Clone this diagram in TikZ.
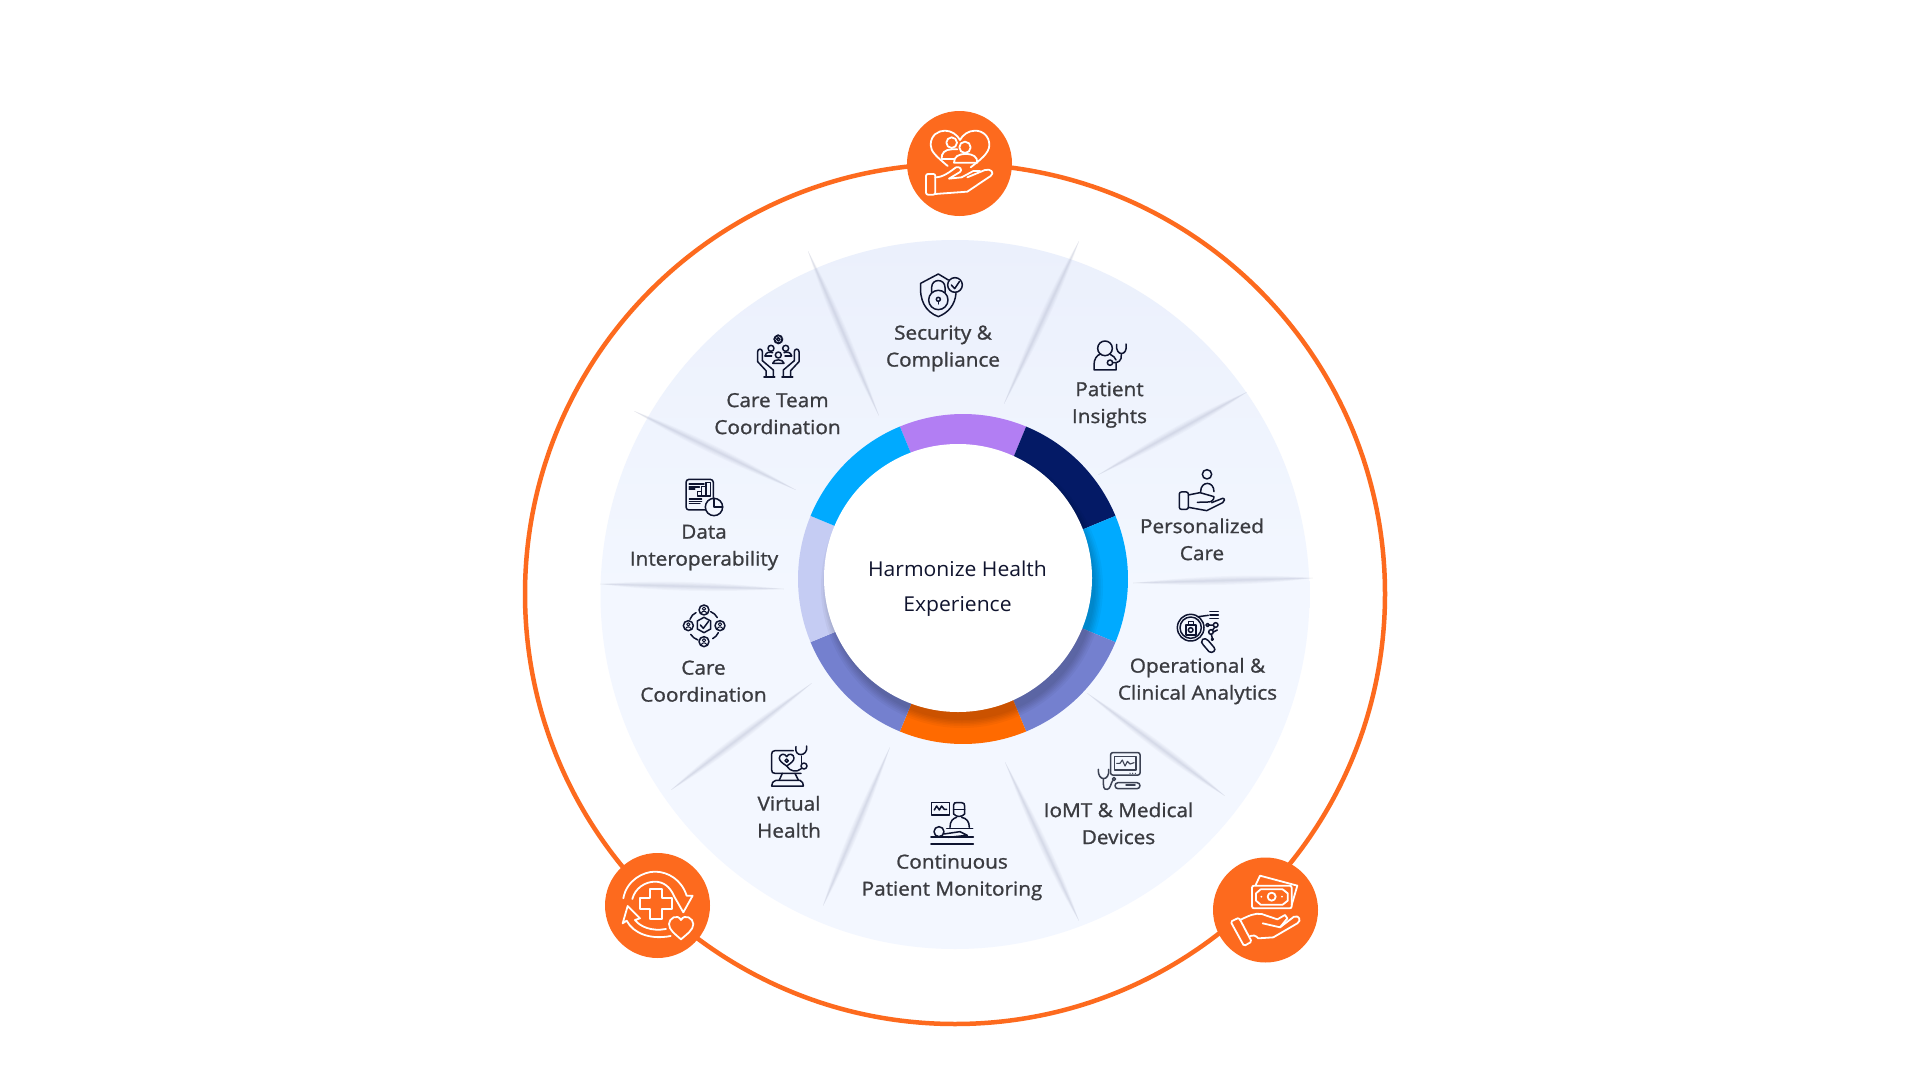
\documentclass[tikz,border=0pt]{standalone}
\usepackage{fontspec}
\usetikzlibrary{calc}
\setmainfont{Open Sans}
\newfontfamily\labfam[FakeBold=1.1,FakeStretch=1.07]{Open Sans}
\newfontfamily\cenfam[FakeStretch=1.03]{Open Sans}
\newcommand\labfont{\labfam\fontsize{19.4}{27}\selectfont}
\newcommand\cenfont{\cenfam\fontsize{20.5}{35}\selectfont}
\definecolor{ringor}{HTML}{FD6A1E}
\definecolor{discTop}{HTML}{EBF0FC}
\definecolor{discBot}{HTML}{F3F7FF}
\definecolor{sepshade}{HTML}{B4B9CF}
\definecolor{segpurple}{HTML}{B27EF3}
\definecolor{segnavy}{HTML}{041A66}
\definecolor{segblue}{HTML}{00AAFF}
\definecolor{segslate}{HTML}{7480CF}
\definecolor{segorange}{HTML}{FF6A00}
\definecolor{seglav}{HTML}{C5CCF3}
\definecolor{labink}{HTML}{3A3B40}
\definecolor{cenink}{HTML}{10142E}
\definecolor{iconink}{HTML}{0E1430}
\definecolor{iconsoft}{HTML}{3C4254}
\tikzset{
  zm/.style 2 args={shift={(#1,#2)},x=0.3333pt,y=-0.3333pt},
  ink/.style={color=iconink,line width=1.5pt,line cap=round,line join=round},
  softink/.style={color=iconsoft,line width=1.5pt,line cap=round,line join=round},
  wink/.style={color=white,line width=1.8pt,line cap=round,line join=round},
  lab/.style={font=\labfont,align=center,inner sep=0pt,text=labink},
  cen/.style={font=\cenfont,align=center,inner sep=0pt,text=cenink},
  badge/.style={circle,fill=ringor,minimum size=105pt,inner sep=0pt},
  seplayer/.style={fill=sepshade,fill opacity=0.085,draw=none}
}
\newcommand\lbl[5]{\node[lab] (#1) at (#2,#3) {#4\strut\\#5\strut};}
\begin{document}
\begin{tikzpicture}[x=1pt,y=-1pt]
\useasboundingbox (0,0) rectangle (1920,1081);
\fill[white] (0,0) rectangle (1920,1081);

% outer ring
\draw[ringor,line width=4.5pt] (955,594) circle[radius=430];

% pale disc
\shade[top color=discTop,bottom color=discBot,middle color=discBot] (955,594.5) circle[radius=354.5];

% soft separators
\foreach \ax/\ay/\bx/\by in {1079/241/1004/404,1247/392/1098/475,1313/578/1133/583,1225/796/1087/693,1079/921/1005/762,823/906/890/747,671/790/812/683,600/584/784/589,634/411/796/490,808/251/879/416}{
  \coordinate (sa) at (\ax,\ay);
  \coordinate (sb) at (\bx,\by);
  \foreach \w in {0.7,1.4,2.2,3.2,4.4,5.8}{
    \fill[seplayer] (sa) .. controls ($(sa)!.3!(sb)!\w pt!90:(sb)$) and ($(sa)!.6!(sb)!\w pt!90:(sb)$) .. (sb)
      .. controls ($(sb)!.4!(sa)!\w pt!90:(sa)$) and ($(sb)!.7!(sa)!\w pt!90:(sa)$) .. (sa) -- cycle;
  }
}

% coloured ring
\begin{scope}[shift={(963,579)},x=1pt,y=1pt]
  \foreach \c/\a in {segpurple/67.5,segnavy/22.5,segblue/-22.5,segslate/-67.5,segorange/-112.5,segslate/-157.5,seglav/157.5,segblue/112.5}{
    \fill[\c] (0,0) -- (\a:165) arc[start angle=\a,end angle=\a+45,radius=165] -- cycle;
  }
  \begin{scope}
    \clip (0,0) circle[radius=165];
    \foreach \r in {133,134.5,136,137.5,139,141}{
      \fill[black,fill opacity=0.035] (-1,-8) circle[radius=\r];
    }
  \end{scope}
\end{scope}
\fill[white] (958,578) circle[radius=134];
\node[cen] (centre) at (957.5,587) {Harmonize Health\strut\\Experience\strut};

% labels
\lbl{lsec}{943}{347.7}{Security \&}{Compliance}
\lbl{lpat}{1109.5}{404.2}{Patient}{Insights}
\lbl{lper}{1202}{541.2}{Personalized}{Care}
\lbl{lope}{1197.5}{680.7}{Operational \&}{Clinical Analytics}
\lbl{liom}{1118.5}{825.2}{IoMT \& Medical}{Devices}
\lbl{lcon}{952}{876.7}{Continuous}{Patient Monitoring}
\lbl{lvir}{789}{818.7}{Virtual}{Health}
\lbl{lcar}{703.5}{682.7}{Care}{Coordination}
\lbl{ldat}{704}{546.7}{Data}{Interoperability}
\lbl{ltea}{777.5}{415.2}{Care Team}{Coordination}

% orange badges
\node[badge] (btop) at (959.5,163.5) {};
\node[badge] (bleft) at (657.5,905.5) {};
\node[badge] (bright) at (1265.5,910) {};

% top badge icon
\begin{scope}[zm={880}{90},wink]
  \draw (203,228) .. controls (170,200) and (152,185) .. (152,165) .. controls (152,135) and (175,122) .. (195,122) .. controls (215,122) and (232,135) .. (240,150) .. controls (248,135) and (265,122) .. (285,122) .. controls (310,122) and (328,140) .. (328,165) .. controls (328,190) and (300,210) .. (272,232);
  \draw (215,158) circle[radius=16];
  \draw (222,207) -- (185,207) .. controls (183,190) and (195,178) .. (215,178) -- (232,178);
  \draw (255,172) circle[radius=17];
  \draw (222,218) .. controls (222,200) and (235,192) .. (257,192) .. controls (280,192) and (292,200) .. (292,218) -- cycle;
  \draw[rounded corners=2pt] (138,252) rectangle (166,314);
  \draw (166,262) .. controls (190,262) and (210,245) .. (228,232) .. controls (240,228) and (248,240) .. (240,246) -- (207,266) -- (245,262);
  \draw (262,262) -- (315,240) .. controls (332,235) and (345,248) .. (332,258) -- (262,305) -- (166,312);
  \draw (245,262) -- (280,243) -- (300,243);
\end{scope}

% bottom-left badge icon
\begin{scope}[zm={580}{830},wink]
  \draw (130,205) .. controls (140,150) and (190,125) .. (225,125) .. controls (265,125) and (305,150) .. (320,197) -- (338,197) -- (310,247) -- (282,198) .. controls (270,170) and (250,155) .. (225,155) .. controls (195,155) and (165,175) .. (157,207);
  \draw (272,318) .. controls (210,330) and (160,310) .. (140,272) -- (128,280) -- (143,228) -- (180,265) -- (165,270) .. controls (180,290) and (215,305) .. (258,297);
  \draw (210,177) -- (245,177) -- (245,205) -- (275,205) -- (275,238) -- (245,238) -- (245,268) -- (210,268) -- (210,238) -- (180,238) -- (180,205) -- (210,205) -- cycle;
  \fill[ringor] (303,292) circle[radius=30];
  \draw (303,328) .. controls (285,312) and (267,300) .. (267,282) .. controls (267,265) and (292,250) .. (303,270) .. controls (314,250) and (340,265) .. (340,282) .. controls (340,300) and (321,312) .. (303,328) -- cycle;
\end{scope}

% bottom-right badge icon
\begin{scope}[zm={1190}{840},wink]
  \draw (197,135) -- (210,107) -- (322,137) -- (305,195);
  \draw[rounded corners=2pt] (186,137) rectangle (305,205);
  \draw (212,148) -- (278,148) -- (293,160) -- (293,182) -- (278,194) -- (212,194) -- (198,182) -- (198,160) -- cycle;
  \draw (245,170) circle[radius=12];
  \fill[white] (214,170) circle[radius=3] (276,170) circle[radius=3];
  \draw[rounded corners=1.5pt] (122,245) -- (147,233) -- (185,305) -- (162,318) -- cycle;
  \draw (150,240) .. controls (175,228) and (195,218) .. (215,222) -- (262,238) -- (285,225) -- (292,235) -- (270,262) -- (218,250);
  \draw (270,262) -- (312,230) .. controls (328,225) and (335,242) .. (322,250) -- (250,292) -- (205,295) .. controls (195,285) and (190,285) .. (180,288);
\end{scope}

% security
\begin{scope}[zm={880}{90},ink]
  \draw (205,570) -- (175,552) -- (122,580) .. controls (118,630) and (135,665) .. (175,680) .. controls (205,668) and (225,645) .. (228,610);
  \draw (175,630) circle[radius=29];
  \draw (155,607) -- (155,592) .. controls (155,565) and (195,565) .. (195,592) -- (195,607);
  \draw (175,628) circle[radius=6];
  \draw (175,634) -- (175,642);
  \draw (225,585) circle[radius=22];
  \draw (214,585) -- (224,596) -- (238,575);
\end{scope}

% patient insights and personalized care
\begin{scope}[zm={1060}{320},ink]
  \draw (135,85) circle[radius=22];
  \draw (168,130) -- (168,150) -- (102,150) -- (102,135) .. controls (102,118) and (110,105) .. (122,102);
  \draw (152,104) .. controls (160,108) and (166,113) .. (168,120);
  \draw (170,73) .. controls (165,110) and (205,110) .. (198,72);
  \draw (184,103) .. controls (186,122) and (175,130) .. (158,128);
  \draw (150,128) circle[radius=8];
  \draw (441,463) circle[radius=14];
  \draw (422,515) .. controls (422,482) and (462,482) .. (462,515);
  \draw[rounded corners=2pt] (358,516) rectangle (385,568);
  \draw (385,525) -- (420,518) -- (462,530) .. controls (462,540) and (455,546) .. (445,546) -- (412,547);
  \draw (455,548) -- (488,535) .. controls (496,535) and (494,545) .. (488,548) -- (440,572) -- (385,562);
\end{scope}

% operational
\begin{scope}[zm={1160}{590},ink]
  \draw (92,113) circle[radius=40];
  \draw (92,113) circle[radius=32];
  \draw (78,105) rectangle (108,135);
  \draw (85,95) rectangle (100,105);
  \draw (92,120) circle[radius=7];
  \draw (115,80) -- (145,76);
  \draw[line width=1.6pt] (150,65) -- (175,65) (150,75) -- (175,75) (150,85) -- (175,85);
  \draw (143,105) circle[radius=5];
  \draw (167,105) circle[radius=7];
  \draw (153,126) circle[radius=7];
  \draw (157,148) circle[radius=3];
  \draw (148,105) -- (160,105) (164,112) -- (158,120) (154,133) -- (157,145) (172,120) -- (160,126);
  \draw (128,148) .. controls (122,155) and (125,160) .. (130,165) -- (147,185) .. controls (158,192) and (170,180) .. (162,172) -- (145,152) .. controls (140,146) and (132,144) .. (128,148) -- cycle;
\end{scope}

% iomt
\begin{scope}[zm={1080}{740},softink]
  \draw[rounded corners=2pt] (92,38) rectangle (180,105);
  \draw (104,50) rectangle (168,90);
  \draw[line width=1.1pt] (110,70) -- (120,70) -- (127,60) -- (135,78) -- (142,64) -- (150,72) -- (162,68);
  \fill (150,100) circle[radius=2] (158,100) circle[radius=2] (166,100) circle[radius=2];
  \draw (55,88) .. controls (52,125) and (90,125) .. (86,88);
  \draw (70,118) .. controls (70,140) and (70,150) .. (82,148) .. controls (92,146) and (92,130) .. (98,122);
  \draw (102,117) circle[radius=5];
  \draw[rounded corners=3pt] (105,128) rectangle (180,146);
  \draw (138,135) -- (165,135);
\end{scope}

% virtual health and continuous monitoring
\begin{scope}[zm={740}{730},ink]
  \draw (160,62) -- (105,62) .. controls (98,62) and (95,66) .. (95,72) -- (95,120) .. controls (95,127) and (98,130) .. (105,130) -- (183,130);
  \draw (127,130) -- (118,150) (165,130) -- (175,150);
  \draw (108,151) -- (180,151) .. controls (188,155) and (190,160) .. (190,168) -- (95,168) .. controls (95,160) and (98,155) .. (108,151) -- cycle;
  \draw (140,108) .. controls (125,98) and (118,92) .. (118,84) .. controls (118,72) and (135,68) .. (140,80) .. controls (145,68) and (162,72) .. (162,84) .. controls (162,92) and (155,98) .. (140,108) -- cycle;
  \draw (140,92) circle[radius=5];
  \draw (168,50) .. controls (160,82) and (205,82) .. (200,48);
  \draw (184,78) -- (184,100);
  \draw (192,108) circle[radius=9];
  \draw (140,108) .. controls (150,125) and (170,128) .. (184,116);
  \draw (575,218) rectangle (628,255);
  \draw (583,240) -- (590,228) -- (598,240) -- (605,228) -- (613,238) -- (620,238);
  \draw (641,252) -- (641,225) .. controls (641,218) and (645,218) .. (650,218) -- (665,218) .. controls (672,218) and (674,222) .. (674,228) -- (674,252);
  \draw (641,238) -- (674,238);
  \draw (641,252) .. controls (650,262) and (665,262) .. (674,252);
  \draw (630,292) .. controls (630,272) and (640,265) .. (650,262);
  \draw (665,262) .. controls (680,265) and (688,275) .. (688,292);
  \draw (620,296) -- (698,296);
  \draw (597,305) circle[radius=15];
  \draw (612,312) -- (660,305) -- (682,316) -- (625,322);
  \draw[line width=1.7pt] (573,322) -- (700,322);
  \draw[line width=1.7pt] (573,341) -- (700,341);
\end{scope}

% care team
\begin{scope}[zm={740}{320},ink]
  \draw (115,58) circle[radius=5];
  \draw[dash pattern=on 3pt off 1pt,line width=2pt] (115,58) circle[radius=12];
  \draw (93,85) circle[radius=9];
  \draw (137,85) circle[radius=9];
  \draw (115,105) circle[radius=9];
  \draw (75,108) .. controls (78,96) and (88,95) .. (98,98);
  \draw (75,108) -- (95,108);
  \draw (155,108) .. controls (152,96) and (142,95) .. (132,98);
  \draw (155,108) -- (135,108);
  \draw (98,130) .. controls (100,116) and (130,116) .. (132,130) -- cycle;
  \draw (67,122) -- (67,95) .. controls (67,85) and (53,85) .. (53,95) -- (53,125) -- (78,152) -- (78,168);
  \draw (67,122) -- (100,150) -- (100,168);
  \draw[line width=1.7pt] (72,170) -- (104,170);
  \draw (163,122) -- (163,95) .. controls (163,85) and (177,85) .. (177,95) -- (177,125) -- (152,152) -- (152,168);
  \draw (163,122) -- (130,150) -- (130,168);
  \draw[line width=1.7pt] (126,170) -- (158,170);
\end{scope}

% data and care coordination
\begin{scope}[zm={660}{460},ink]
  \draw[rounded corners=3pt] (78,58) rectangle (160,150);
  \fill[discBot] (162,141) circle[radius=26];
  \draw (162,141) circle[radius=26];
  \draw (162,115) -- (162,141) -- (188,141);
  \draw (112,108) rectangle (125,95);
  \draw (125,108) rectangle (138,80);
  \draw (138,108) rectangle (152,68);
  \draw[line width=1.7pt] (88,72) -- (132,72) (88,80) -- (118,80) (88,88) -- (104,88);
  \draw[line width=1.2pt] (88,117) -- (125,117) (88,124) -- (125,124) (88,131) -- (120,131);
  \foreach \px/\py in {132/450,85/497,180/497,132/545}{
    \draw (\px,\py) circle[radius=15];
    \draw[line width=1pt] (\px,\py-4) circle[radius=5];
    \draw[line width=1pt] (\px-8,\py+9) .. controls (\px-6,\py+2) and (\px+6,\py+2) .. (\px+8,\py+9);
  }
  \draw (132,472) -- (152,483) -- (152,507) -- (132,518) -- (112,507) -- (112,483) -- cycle;
  \draw (121,495) -- (130,505) -- (145,485);
  \draw (90,478) .. controls (94,468) and (99,462) .. (108,458);
  \draw (152,455) .. controls (160,458) and (168,465) .. (172,473);
  \draw (175,518) .. controls (172,525) and (166,532) .. (158,536);
  \draw (92,523) .. controls (97,531) and (105,537) .. (114,540);
\end{scope}
\end{tikzpicture}
\end{document}
